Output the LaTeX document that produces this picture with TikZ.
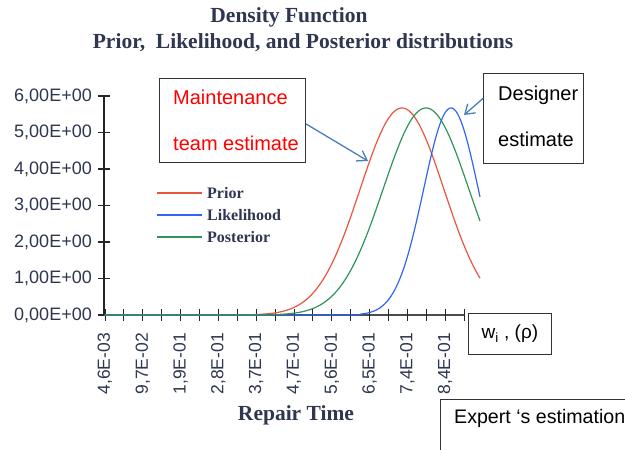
\documentclass[tikz,border=0pt]{standalone}
\usepackage{fontspec}
\setmainfont{Liberation Serif}
\setsansfont{Liberation Sans}
\usetikzlibrary{arrows.meta,calc}
\definecolor{ink}{HTML}{2E3650}
\definecolor{cred}{HTML}{E8553F}
\definecolor{cblue}{HTML}{2F66F5}
\definecolor{cgreen}{HTML}{2E955A}
\definecolor{arr}{HTML}{4A7EBB}
\tikzset{
  titletext/.style={font=\bfseries\fontsize{21.5}{24}\selectfont, text=ink, inner sep=0},
  ylab/.style={font=\sffamily\fontsize{18}{20}\selectfont, text=ink, anchor=east, inner sep=0},
  xlab/.style={font=\sffamily\fontsize{17.5}{20}\selectfont, text=ink, anchor=east, rotate=90, inner sep=0},
  legtext/.style={font=\bfseries\fontsize{16}{18}\selectfont, text=ink, anchor=west, inner sep=0},
  curve/.style={line width=1.2pt, line join=round},
  legline/.style={line width=1.2pt},
  box/.style={draw=black!80, line width=0.9pt, inner sep=0},
  boxtext/.style={font=\sffamily\fontsize{20}{46}\selectfont, align=left, anchor=west, inner sep=0},
  callout/.style={draw=arr, line width=1.3pt, -{Straight Barb[length=9pt,width=12pt,line width=1.3pt]}},
}
\begin{document}
\begin{tikzpicture}[x=1pt,y=-1pt]
\useasboundingbox (0,0) rectangle (625,450);
\clip (0,0) rectangle (625,450);

% titles
\node[titletext] (t1) at (289,17) {Density Function};
\node[titletext] (t2) at (303,43) {Prior,\ \ Likelihood, and Posterior distributions};

% y axis
\draw[line width=1.1pt, black!85] (104,96) -- (104,315);
\foreach \i in {0,...,6} {
  \pgfmathsetmacro{\yy}{315-36.5*\i}
  \draw[line width=1.1pt, black!85] (98,\yy) -- (110,\yy);
  \node[ylab] (yl\i) at (92,\yy) {\i,00E+00};
}

% x axis
\draw[line width=1.1pt, black!70] (104,315) -- (464,315);
\foreach \k in {0,...,19} {
  \pgfmathsetmacro{\xx}{105+18.9*\k}
  \draw[line width=1pt, black!85] (\xx,309) -- (\xx,321);
}
\foreach \k/\t in {0/{4,6E-03},2/{9,7E-02},4/{1,9E-01},6/{2,8E-01},8/{3,7E-01},10/{4,7E-01},12/{5,6E-01},14/{6,5E-01},16/{7,4E-01},18/{8,4E-01}} {
  \pgfmathsetmacro{\xx}{105+18.9*\k}
  \node[xlab] (xl\k) at (\xx,333) {\t};
}

% curves
\draw[curve, cred] (105,315) -- (250,315) -- plot[domain=250:480, samples=140] (\x, {315-207*exp(-0.5*((\x-402)/42)^2)});
\draw[curve, cblue] (105,315) -- (360,315) -- plot[domain=360:480, samples=120] (\x, {315-207*exp(-0.5*((\x-451)/27.4)^2)});
\draw[curve, cgreen] (105,315) -- (272,315) -- plot[domain=272:480, samples=140] (\x, {315-207*exp(-0.5*((\x-426)/43)^2)});

% legend
\draw[legline, cred] (157,193) -- (202,193);
\draw[legline, cblue] (157,215) -- (202,215);
\draw[legline, cgreen] (157,237) -- (202,237);
\node[legtext] (lp) at (207,193) {Prior};
\node[legtext] (ll) at (207,215) {Likelihood};
\node[legtext] (lq) at (207,237) {Posterior};

% maintenance box
\node[box, minimum width=146pt, minimum height=84pt, anchor=north west] (mbox) at (159,78) {};
\node[boxtext, text=red] (mtxt) at (173,120) {Maintenance\\team estimate};

% designer box
\node[box, minimum width=100pt, minimum height=90pt, anchor=north west] (dbox) at (483,73) {};
\node[boxtext, text=black] (dtxt) at (498,116) {Designer\\estimate};

% callouts
\coordinate (mtip) at (368,161);
\coordinate (dtip) at (464,115);
\draw[callout] ($(mbox.north east)!0.54!(mbox.south east)$) -- (mtip);
\draw[callout] ($(dbox.north west)!0.28!(dbox.south west)$) -- (dtip);

% w box
\node[box, minimum width=83pt, minimum height=41pt, anchor=north west] (wbox) at (468,313) {};
\node[font=\sffamily\fontsize{19}{22}\selectfont, inner sep=0] (wtxt) at (wbox.center) {w\textsubscript{i} , (ρ)};

% repair time
\node[titletext] (rt) at (296,415) {Repair Time};

% expert box
\node[box, minimum width=300pt, minimum height=90pt, anchor=north west] (ebox) at (440,399) {};
\node[font=\sffamily\fontsize{19.6}{22}\selectfont, anchor=west, inner sep=0] (etxt) at (454,418) {Expert ‘s estimation};
\end{tikzpicture}
\end{document}
